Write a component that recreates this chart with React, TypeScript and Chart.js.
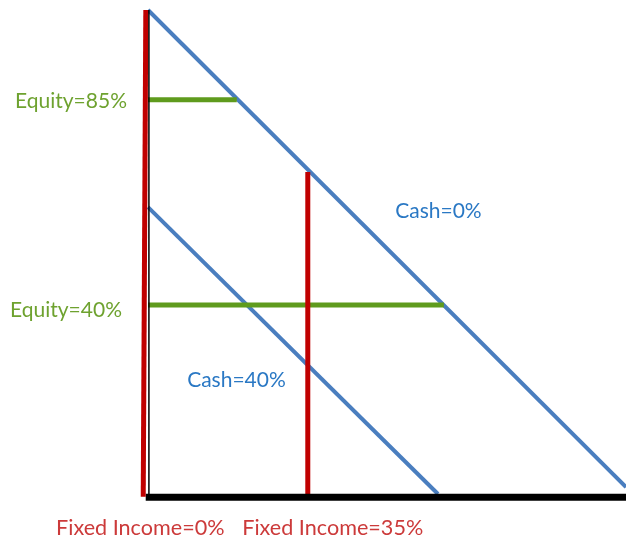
import React, { useEffect, useRef } from "react";
import { Chart, registerables } from "chart.js";

Chart.register(...registerables);

// Axes in percentage-like units (Fixed income on x, Equity on y)
const xRange = [0, 105];
const yRange = [0, 106.3];

// Cash = 0% line
const cash0X = [0, 105];
const cash0Y = [106.3, 1.5];
// Cash = 40% line
const cash40X = [0, 63.7];
const cash40Y = [63.0, 0];
// Equity = 85% line
const eq85X = [0, 19.5];
const eq85Y = [86.6, 86.6];
// Equity = 40% line
const eq40X = [0, 65.0];
const eq40Y = [41.5, 41.5];
// Fixed income = 35% line
const fi35X = [35.1, 35.1];
const fi35Y = [0, 70.7];
// Fixed income = 0% line
const fi0X = [-0.48, -1.05];
const fi0Y = [106.3, -0.6];
// x axis
const axisX = [-0.5, 105];
const axisY = [-0.7, -0.7];
// y axis (thin)
const yAxisX = [0.2, 0.2];
const yAxisY = [106.3, 0];

const labelTexts = ["Equity=85%", "Equity=40%", "Cash=0%", "Cash=40%", "Fixed Income=0%", "Fixed Income=35%"];
const labelX = [-29.2, -30.3, 54.3, 8.6, -20.2, 20.7];
const labelY = [86.3, 40.4, 62.2, 25.0, -7.4, -7.4];
const labelSizes = [21, 21, 21, 21, 21.6, 21.6];
const labelColors = ["#6ea22f", "#6ea22f", "#2a78c4", "#2a78c4", "#cc3a3a", "#cc3a3a"];

const pts = (xs: number[], ys: number[]) => xs.map((x, i) => ({ x, y: ys[i] }));

const labelPlugin = {
  id: "labels",
  afterDatasetsDraw(chart: any) {
    const { ctx, scales } = chart;
    ctx.save();
    ctx.textAlign = "left";
    ctx.textBaseline = "middle";
    labelTexts.forEach((t, i) => {
      ctx.font = `${labelSizes[i]}px Lato`;
      ctx.fillStyle = labelColors[i];
      ctx.fillText(t, scales.x.getPixelForValue(labelX[i]), scales.y.getPixelForValue(labelY[i]));
    });
    ctx.restore();
  },
};

export default function App() {
  const ref = useRef<HTMLCanvasElement>(null);
  useEffect(() => {
    const mk = (xs: number[], ys: number[], color: string, width: number) => ({
      data: pts(xs, ys),
      borderColor: color,
      backgroundColor: color,
      borderWidth: width,
      showLine: true,
      pointRadius: 0,
      borderCapStyle: "butt" as const,
      clip: false as const,
      fill: false,
    });
    const chart = new Chart(ref.current!, {
      type: "scatter",
      data: {
        datasets: [
          mk(yAxisX, yAxisY, "#000000", 1.5),
          mk(fi0X, fi0Y, "#c00000", 5),
          mk(axisX, axisY, "#000000", 7),
          mk(fi35X, fi35Y, "#c00000", 5),
          mk(eq85X, eq85Y, "#5f9b1d", 5),
          mk(eq40X, eq40Y, "#5f9b1d", 5),
          mk(cash0X, cash0Y, "#4a7ebf", 4),
          mk(cash40X, cash40Y, "#4a7ebf", 4),
        ] as any,
      },
      options: {
        animation: false,
        responsive: false,
        devicePixelRatio: 1,
        layout: { padding: { left: 148, right: 0, top: 10, bottom: 46 } },
        plugins: { legend: { display: false }, tooltip: { enabled: false } },
        scales: {
          x: { type: "linear", display: false, min: xRange[0], max: xRange[1] },
          y: { type: "linear", display: false, min: yRange[0], max: yRange[1] },
        },
      },
      plugins: [labelPlugin],
    });
    return () => chart.destroy();
  }, []);
  return (
    <div style={{ position: "absolute", left: 0, top: 0, width: 626, height: 540, background: "#fff" }}>
      <canvas ref={ref} width={626} height={540} />
    </div>
  );
}
